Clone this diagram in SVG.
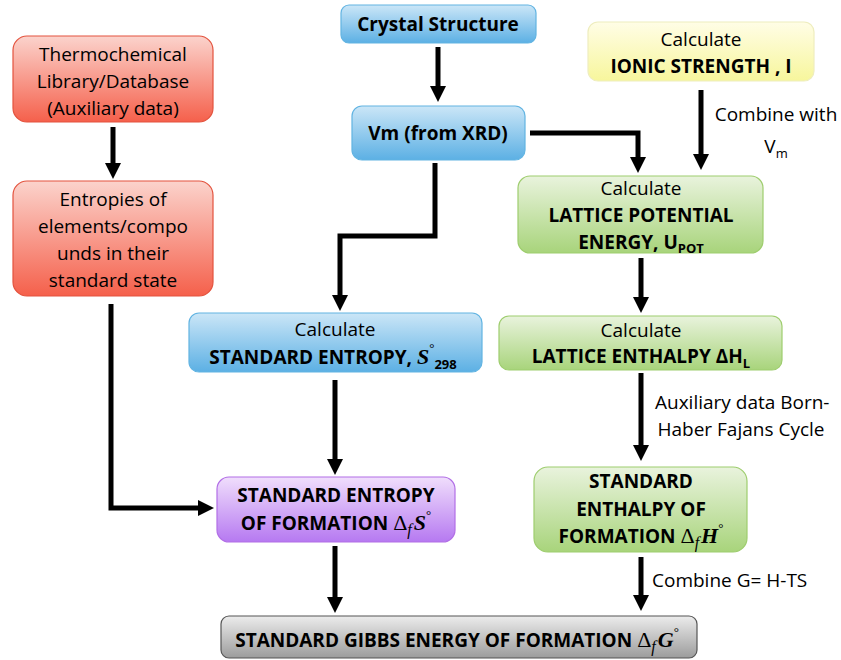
<svg xmlns="http://www.w3.org/2000/svg" width="841" height="660" viewBox="0 0 841 660">
<defs>
<linearGradient id="gRed" x1="0" y1="0" x2="0" y2="1"><stop offset="0" stop-color="#fbd3cc"/><stop offset="1" stop-color="#f5604b"/></linearGradient>
<linearGradient id="gBlue" x1="0" y1="0" x2="0" y2="1"><stop offset="0" stop-color="#cbe6f7"/><stop offset="1" stop-color="#5cb0e4"/></linearGradient>
<linearGradient id="gYel" x1="0" y1="0" x2="0" y2="1"><stop offset="0" stop-color="#fffde6"/><stop offset="1" stop-color="#f7f69c"/></linearGradient>
<linearGradient id="gGrn" x1="0" y1="0" x2="0" y2="1"><stop offset="0" stop-color="#e9f3dd"/><stop offset="1" stop-color="#a8d47b"/></linearGradient>
<linearGradient id="gPur" x1="0" y1="0" x2="0" y2="1"><stop offset="0" stop-color="#f0defc"/><stop offset="1" stop-color="#b679f1"/></linearGradient>
<linearGradient id="gGry" x1="0" y1="0" x2="0" y2="1"><stop offset="0" stop-color="#ececec"/><stop offset="1" stop-color="#9c9c9c"/></linearGradient>
<marker id="ah" viewBox="0 0 16 16" markerWidth="16" markerHeight="16" markerUnits="userSpaceOnUse" refX="0" refY="8" orient="auto"><path d="M0,0 L16,8 L0,16 z" fill="#000"/></marker>
<style>
text{font-family:"Open Sans","Liberation Sans",sans-serif;font-size:19px;fill:#000;text-anchor:middle}
.b{font-weight:bold}
.m{font-family:"Liberation Serif","DejaVu Serif",serif;font-weight:normal;font-size:22px}
.mi{font-family:"Liberation Serif","DejaVu Serif",serif;font-style:italic;font-weight:normal;font-size:16px}
.mbi{font-family:"Liberation Serif","DejaVu Serif",serif;font-style:italic;font-weight:bold;font-size:22px}
.deg{font-family:"Liberation Serif","DejaVu Serif",serif;font-weight:normal;font-size:13px}
.sub{font-size:13px}
.red{fill:url(#gRed);stroke:#e3533e;stroke-width:1.2}
.blue{fill:url(#gBlue);stroke:#62b4e2;stroke-width:1.2}
.yel{fill:url(#gYel);stroke:#eeedbe;stroke-width:1.2}
.grn{fill:url(#gGrn);stroke:#9ecd6e;stroke-width:1.2}
.pur{fill:url(#gPur);stroke:#b26fe6;stroke-width:1.2}
.gry{fill:url(#gGry);stroke:#555;stroke-width:1.2}
.c{fill:none;stroke:#000;stroke-width:5;marker-end:url(#ah)}
</style>
</defs>
<g id="connectors">
<path class="c" d="M438,47 V86"/>
<path class="c" d="M113,127 V163"/>
<path class="c" d="M530,133 H638 V157"/>
<path class="c" d="M701,90 V154"/>
<path class="c" d="M435,163 V236 H340 V295"/>
<path class="c" d="M111,304 V508 H198"/>
<path class="c" d="M335,380 V459"/>
<path class="c" d="M641,258 V297"/>
<path class="c" d="M641,373 V445"/>
<path class="c" d="M641,557 V595"/>
<path class="c" d="M335,546 V597"/>
<text x="776" y="121">Combine with</text>
<text x="776" y="153">V<tspan class="sub" dy="5">m</tspan></text>
<text x="655" y="409" style="text-anchor:start">Auxiliary data Born-</text>
<text x="741" y="436">Haber Fajans Cycle</text>
<text x="652" y="587" style="text-anchor:start">Combine G= H-TS</text>
</g>
<g id="crystal"><rect class="blue" x="341" y="5" width="195" height="38" rx="8"/><text class="b" x="438" y="31">Crystal Structure</text></g>
<g id="vm"><rect class="blue" x="352" y="106" width="173" height="54" rx="10"/><text class="b" x="438" y="140">Vm (from XRD)</text></g>
<g id="thermo"><rect class="red" x="13" y="36" width="200" height="86" rx="14"/>
<text x="113" y="61">Thermochemical</text><text x="113" y="88">Library/Database</text><text x="113" y="115">(Auxiliary data)</text></g>
<g id="entropies"><rect class="red" x="13" y="181" width="200" height="115" rx="14"/>
<text x="113" y="206">Entropies of</text><text x="113" y="233">elements/compo</text><text x="113" y="260">unds in their</text><text x="113" y="287">standard state</text></g>
<g id="ionic"><rect class="yel" x="588" y="22" width="226" height="59" rx="10"/>
<text x="701" y="46">Calculate</text><text class="b" x="701" y="73">IONIC STRENGTH , I</text></g>
<g id="lpe"><rect class="grn" x="518" y="176" width="245" height="77" rx="12"/>
<text x="641" y="195">Calculate</text><text class="b" x="641" y="222">LATTICE POTENTIAL</text><text class="b" x="641" y="249">ENERGY, U<tspan class="sub" dy="4">POT</tspan></text></g>
<g id="stdentropy"><rect class="blue" x="189" y="313" width="293" height="59" rx="10"/>
<text x="335" y="336">Calculate</text><text class="b" x="333" y="364">STANDARD ENTROPY, <tspan class="mbi">S</tspan><tspan class="deg" dy="-12">°</tspan><tspan class="b sub" dy="17">298</tspan></text></g>
<g id="latenth"><rect class="grn" x="499" y="316" width="283" height="54" rx="10"/>
<text x="641" y="337">Calculate</text><text class="b" x="641" y="363">LATTICE ENTHALPY ΔH<tspan class="sub" dy="5">L</tspan></text></g>
<g id="entform"><rect class="pur" x="217" y="477" width="238" height="65" rx="12"/>
<text class="b" x="336" y="502">STANDARD ENTROPY</text><text class="b" x="336" y="530">OF FORMATION <tspan class="m">Δ</tspan><tspan class="mi" dy="5">f</tspan><tspan class="mbi" dy="-5" dx="2">S</tspan><tspan class="deg" dy="-11">°</tspan></text></g>
<g id="enthform"><rect class="grn" x="534" y="467" width="213" height="85" rx="14"/>
<text class="b" x="641" y="488">STANDARD</text><text class="b" x="641" y="516">ENTHALPY OF</text><text class="b" x="641" y="543">FORMATION <tspan class="m">Δ</tspan><tspan class="mi" dy="5">f</tspan><tspan class="mbi" dy="-5" dx="2">H</tspan><tspan class="deg" dy="-11">°</tspan></text></g>
<g id="gibbs"><rect class="gry" x="221" y="616" width="476" height="42" rx="8"/>
<text class="b" x="457" y="647">STANDARD GIBBS ENERGY OF FORMATION <tspan class="m">Δ</tspan><tspan class="mi" dy="5">f</tspan><tspan class="mbi" dy="-5" dx="2">G</tspan><tspan class="deg" dy="-11">°</tspan></text></g>
</svg>
